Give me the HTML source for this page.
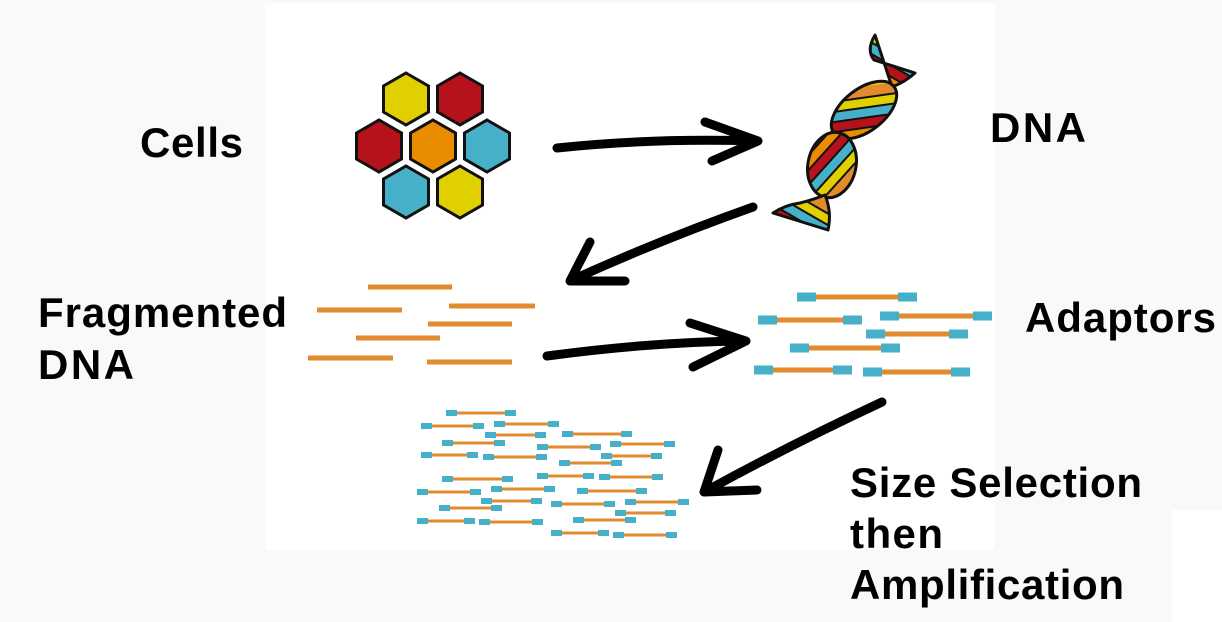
<!DOCTYPE html>
<html><head><meta charset="utf-8"><style>
html,body{margin:0;padding:0;background:#f9f9f9;}
svg{display:block;}
text{font-family:"Liberation Sans",Arial,sans-serif;font-weight:bold;font-size:42px;fill:#000;}
</style></head><body>
<svg id="s" width="1222" height="622" viewBox="0 0 1222 622">
<defs>
<pattern id="stripes" patternUnits="userSpaceOnUse" width="60" height="60" patternTransform="rotate(30)">
<rect x="0" y="0" width="60" height="10" fill="#e38a2e"/>
<rect x="0" y="10" width="60" height="2" fill="#111"/>
<rect x="0" y="12" width="60" height="8" fill="#e1d000"/>
<rect x="0" y="20" width="60" height="2" fill="#111"/>
<rect x="0" y="22" width="60" height="8" fill="#46b0c9"/>
<rect x="0" y="30" width="60" height="2" fill="#111"/>
<rect x="0" y="32" width="60" height="8" fill="#b5121b"/>
<rect x="0" y="40" width="60" height="2" fill="#111"/>
<rect x="0" y="42" width="60" height="8" fill="#ea8c00"/>
<rect x="0" y="50" width="60" height="2" fill="#111"/>
<rect x="0" y="52" width="60" height="8" fill="#e1d000"/>
</pattern>
</defs>
<rect x="0" y="0" width="1222" height="622" fill="#f9f9f9"/>
<rect x="265" y="3" width="730" height="547" fill="#fff"/>
<rect x="1172" y="510" width="50" height="112" fill="#fff"/>
<g id="hexes"></g>
<g stroke="#111" stroke-width="3" stroke-linejoin="round">
<path d="M875,35 Q866,50 874,60 L915,73 Q905,82 892,87 Z" fill="url(#stripes)"/>
<ellipse cx="864" cy="110" rx="38" ry="21" transform="rotate(-38 864 110)" fill="url(#stripes)"/>
<ellipse cx="832" cy="165" rx="33" ry="24" transform="rotate(102 832 165)" fill="url(#stripes)"/>
<path d="M825,195 Q812,200 800,203 Q785,205 773,213 L828,230 Q832,212 825,195 Z" fill="url(#stripes)"/>
</g>
<g id="frags"></g>
<g id="adapt"></g>
<g id="lib"></g>
<g fill="none" stroke="#000" stroke-width="9" stroke-linecap="round" stroke-linejoin="round">
<path d="M557,148 Q650,138 755,141 M705,122 L758,141 L712,161"/>
<path d="M753,207 Q660,240 572,280 M590,242 L570,281 L625,281"/>
<path d="M547,356 Q650,342 745,341 M690,323 L746,341 L693,367"/>
<path d="M882,402 Q790,445 706,491 M718,450 L704,492 L757,490"/>
</g>
<text x="140" y="157" textLength="103">Cells</text>
<text x="990" y="142" textLength="96">DNA</text>
<text x="38" y="327" textLength="249">Fragmented</text>
<text x="38" y="379" textLength="96">DNA</text>
<text x="1025" y="332" textLength="191">Adaptors</text>
<text x="850" y="497" textLength="292">Size Selection</text>
<text x="850" y="548" textLength="93">then</text>
<text x="850" y="599" textLength="274">Amplification</text>
</svg>
<script>
const NS="http://www.w3.org/2000/svg";
const hexCenters=[[406,99],[460,99],[379,146],[433,146],[487,146],[406,192],[460,192]];
const hexColors=["#e1d000","#b5121b","#b5121b","#ea8c00","#46b0c9","#46b0c9","#e1d000"];
const frags=[[368,452,287],[449,535,306],[317,402,310],[428,512,324],[356,440,338],[308,393,358],[427,512,362]];
const adapts=[[797,917,297],[758,862,320],[880,992,316],[866,968,334],[790,900,348],[754,852,370],[863,970,372]];
const lib=[[446,516,413],[421,484,426],[494,559,424],[485,546,435],[562,632,434],[442,505,443],[537,601,447],[610,675,444],[421,478,455],[483,547,457],[601,662,456],[559,622,463],[442,513,479],[537,594,476],[599,663,477],[417,481,492],[491,555,489],[577,647,491],[481,542,501],[551,615,504],[625,689,502],[439,502,508],[615,676,513],[417,475,521],[479,543,522],[573,636,520],[551,609,533],[613,677,535]];
const hg=document.getElementById('hexes');
hexCenters.forEach((c,i)=>{
  const r=26,pts=[];
  for(let k=0;k<6;k++){const a=Math.PI/180*(60*k-90);pts.push((c[0]+r*Math.cos(a)).toFixed(1)+","+(c[1]+r*Math.sin(a)).toFixed(1));}
  const p=document.createElementNS(NS,'polygon');
  p.setAttribute('points',pts.join(' '));p.setAttribute('fill',hexColors[i]);p.setAttribute('stroke','#111');p.setAttribute('stroke-width','3');
  
  
  hg.appendChild(p);
});
function line(g,x1,x2,y,w){const l=document.createElementNS(NS,'line');l.setAttribute('x1',x1);l.setAttribute('x2',x2);l.setAttribute('y1',y);l.setAttribute('y2',y);l.setAttribute('stroke','#e08b2e');l.setAttribute('stroke-width',w);g.appendChild(l);return l;}
function cap(g,x,y,w,h){const r=document.createElementNS(NS,'rect');r.setAttribute('x',x);r.setAttribute('y',y-h/2);r.setAttribute('width',w);r.setAttribute('height',h);r.setAttribute('fill','#46b0c9');g.appendChild(r);return r;}
const fg=document.getElementById('frags');
frags.forEach(f=>{const l=line(fg,f[0],f[1],f[2],5);
  
  });
const ag=document.getElementById('adapt');
adapts.forEach(f=>{const g=document.createElementNS(NS,'g');
  
  
  ag.appendChild(g);line(g,f[0],f[1],f[2],5);cap(g,f[0],f[2],19,9);cap(g,f[1]-19,f[2],19,9);});
const lg=document.getElementById('lib');
lib.forEach(f=>{const g=document.createElementNS(NS,'g');
  
  
  lg.appendChild(g);line(g,f[0],f[1],f[2],3);cap(g,f[0],f[2],11,6);cap(g,f[1]-11,f[2],11,6);});
</script>
</body></html>
